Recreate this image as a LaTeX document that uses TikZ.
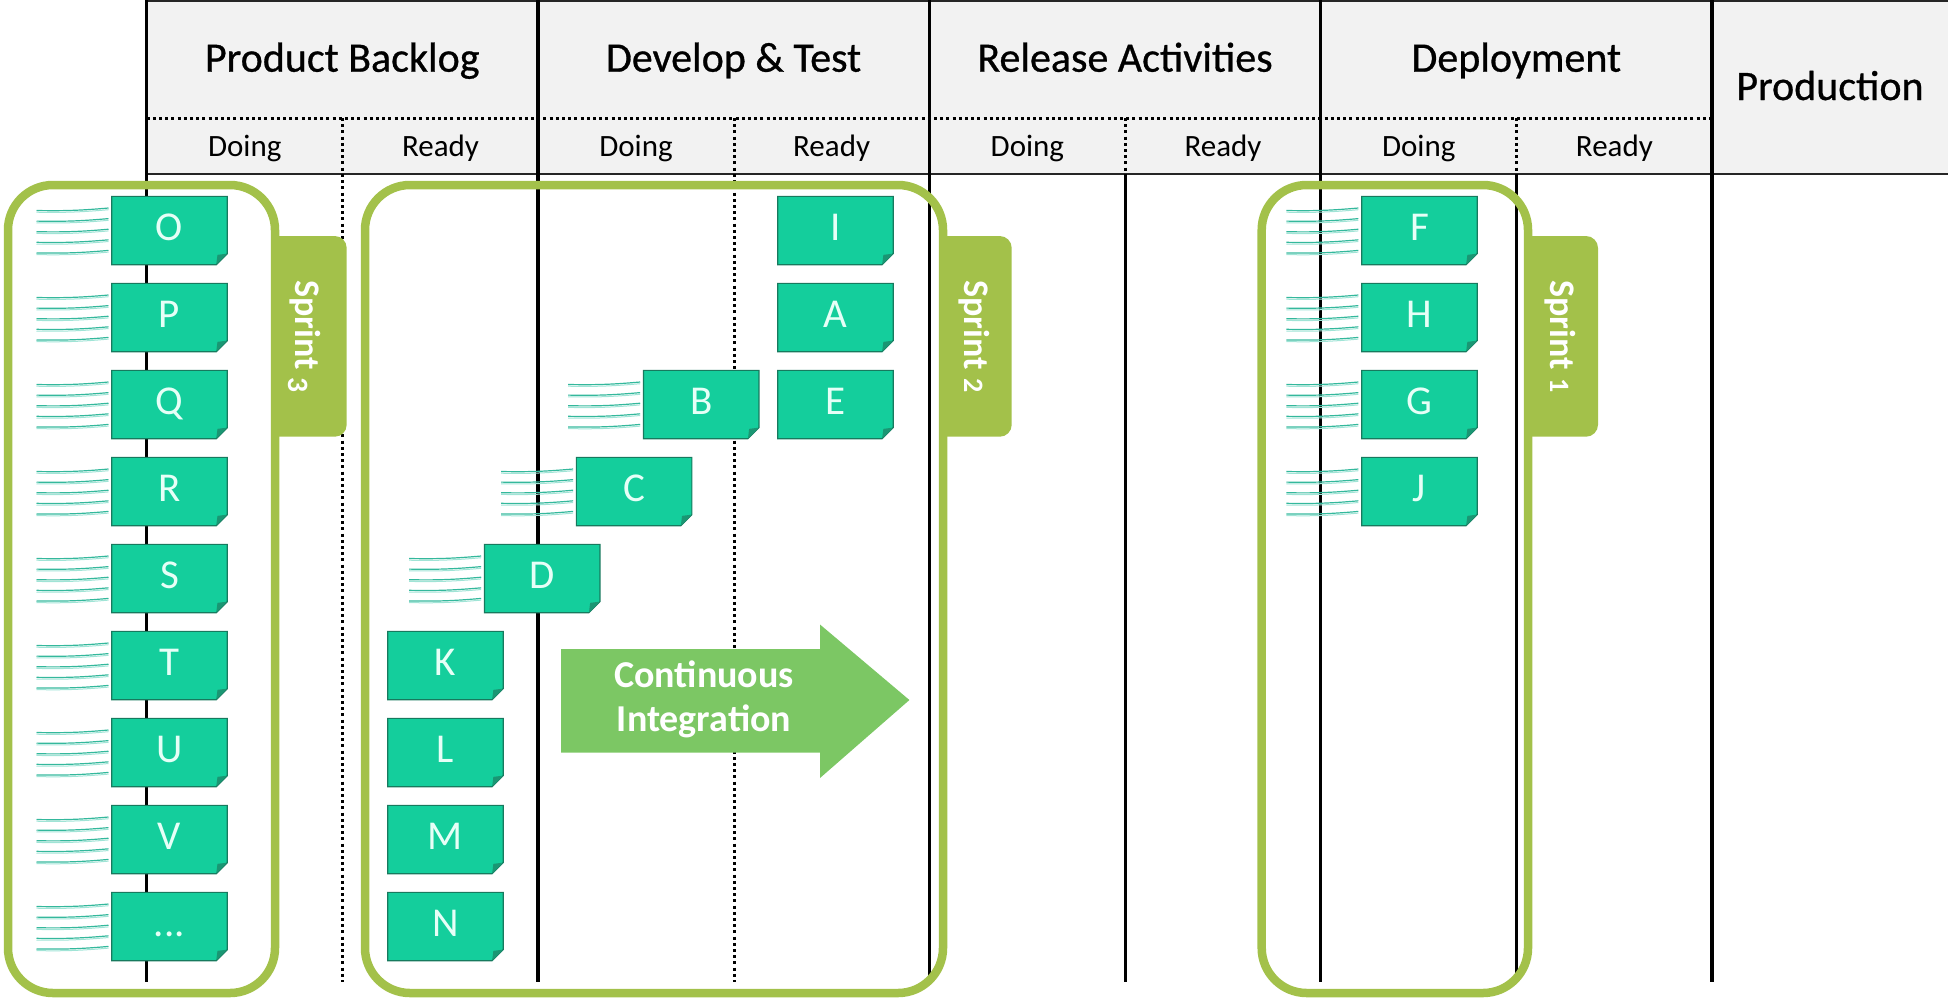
\documentclass[tikz,border=0pt]{standalone}
\usepackage{fontspec}
\setmainfont{Carlito}
\usetikzlibrary{calc}
\definecolor{headgray}{RGB}{242,242,242}
\definecolor{cardgreen}{RGB}{20,206,156}
\definecolor{carddark}{RGB}{23,122,94}
\definecolor{foldgreen}{RGB}{26,150,115}
\definecolor{cardletter}{RGB}{230,255,247}
\definecolor{sprintgreen}{RGB}{163,193,74}
\definecolor{arrowgreen}{RGB}{124,199,100}
\definecolor{speedteal}{RGB}{52,184,156}
\definecolor{speedpale}{RGB}{160,228,214}
\tikzset{
  colline/.style={line width=1.6pt, black},
  thinline/.style={line width=1pt, black!85},
  dotline/.style={line width=1.5pt, dash pattern=on 1.5pt off 1.6pt, black},
  title/.style={anchor=base, font=\fontsize{21}{25}\selectfont\addfontfeatures{FakeBold=0.7}, inner sep=0pt},
  subtitle/.style={anchor=base, font=\fontsize{15.5}{18}\selectfont, inner sep=0pt},
  cardbody/.style={fill=cardgreen, draw=carddark, line width=0.6pt},
  cardfold/.style={fill=foldgreen},
  cardtext/.style={anchor=base, text=cardletter, font=\fontsize{20.5}{24}\selectfont, inner sep=0pt},
  sprintbox/.style={draw=sprintgreen, line width=4.25pt, rounded corners=22.5pt},
  sprinttab/.style={fill=sprintgreen, rounded corners=6pt},
  sprintlabel/.style={anchor=base, rotate=-90, text=white, font=\fontsize{18}{21}\selectfont\bfseries, inner sep=0pt},
  speed/.style={draw=speedteal, line width=0.6pt},
  speedlight/.style={draw=speedpale, line width=0.5pt},
  ciarrow/.style={fill=arrowgreen},
  citext/.style={text=white, font=\fontsize{19}{22}\selectfont\bfseries, align=center, inner sep=0pt},
}
\newcommand\kcard[4]{%
  \filldraw[cardbody] ($(#2,#3)+(-57.75,-34.15)$) -- ++(115.5,0) -- ++(0,57.3) -- ++(-11,11) -- ++(-104.5,0) -- cycle;
  \fill[cardfold] ($(#2,#3)+(57.75,23.15)$) -- ++(-11,11) -- ++(1.2,-9.8) -- cycle;
  \node[cardtext] (#1) at ($(#2,#3)+(0,9.5)$) {#4};
}
\newcommand\speedlines[2]{%
  \foreach \k in {0,1,2,3,4}{%
    \draw[speedlight] ($(#1,#2)+(-133,-18.3+10.6*\k)$) to[bend right=3] ($(#1,#2)+(-61,-20.8+10.6*\k)$);
    \draw[speed] ($(#1,#2)+(-133,-20+10.6*\k)$) to[bend right=3] ($(#1,#2)+(-61,-22.5+10.6*\k)$);
  }%
}
% old-style looking numerals
\newcommand\osdown[1]{\raisebox{-0.19em}{\scalebox{0.82}{#1}}}
\newcommand\ossmall[1]{\scalebox{0.78}{#1}}
\begin{document}
\begin{tikzpicture}[x=0.5pt,y=-0.5pt]
\useasboundingbox (0,0) rectangle (1948,1003);
% header background
\fill[headgray] (146.6,0) rectangle (1948,174);
\draw[thinline] (146.6,1) -- (1948,1);
\draw[dotline] (146.6,118) -- (1712,118);
\draw[thinline] (146.6,174) -- (1948,174);
% column lines
\foreach \x in {146.6,538,929.2,1320.6,1712} \draw[colline] (\x,0) -- (\x,982);
\foreach \x in {342.9,734.2,1125.5,1516.8} \draw[dotline] (\x,118) -- (\x,174);
\foreach \x in {342.9,734.2} \draw[dotline] (\x,174) -- (\x,982);
\foreach \x in {1125.5,1516.8} \draw[colline] (\x,174) -- (\x,982);
% header texts
\node[title] (tPB) at (342.3,71.7) {Product Backlog};
\node[title] (tDT) at (733.6,71.7) {Develop \& Test};
\node[title] (tRA) at (1125,71.7) {Release Activities};
\node[title] (tDep) at (1516.3,71.7) {Deployment};
\node[title] (tProd) at (1830,100) {Production};
\node[subtitle] (d1) at (244.8,156) {Doing};
\node[subtitle] (r1) at (440.5,156) {Ready};
\node[subtitle] (d2) at (636,156) {Doing};
\node[subtitle] (r2) at (831.6,156) {Ready};
\node[subtitle] (d3) at (1027.4,156) {Doing};
\node[subtitle] (r3) at (1223,156) {Ready};
\node[subtitle] (d4) at (1418.7,156) {Doing};
\node[subtitle] (r4) at (1614.4,156) {Ready};
% sprint tabs
\begin{scope}
  \clip (275,0) rectangle (400,1003);
  \fill[sprinttab] (250,236) rectangle (346.7,436.7);
\end{scope}
\begin{scope}
  \clip (943,0) rectangle (1100,1003);
  \fill[sprinttab] (920,236) rectangle (1011.7,436.7);
\end{scope}
\begin{scope}
  \clip (1528,0) rectangle (1700,1003);
  \fill[sprinttab] (1500,236) rectangle (1598,436.7);
\end{scope}
% sprint boxes
\draw[sprintbox] (8,185) rectangle (275,993);
\draw[sprintbox] (365,185) rectangle (943,993);
\draw[sprintbox] (1261.7,185) rectangle (1528,993);
\node[sprintlabel] (s3) at (295,336.5) {Sprint \osdown{3}};
\node[sprintlabel] (s2) at (964,336.5) {Sprint \ossmall{2}};
\node[sprintlabel] (s1) at (1550,336.5) {Sprint \ossmall{1}};
% backlog cards
\foreach \n [count=\i from 0, evaluate=\i as \cy using 230.5+87*\i] in {O,P,Q,R,S,T,U,V}{%
  \speedlines{169.5}{\cy}
  \kcard{\n}{169.5}{\cy}{\n}
}
\speedlines{169.5}{926.5}
\kcard{more}{169.5}{926.5}{...}
% develop & test
\kcard{I}{835.4}{230.5}{I}
\kcard{A}{835.4}{317.5}{A}
\kcard{E}{835.4}{404.5}{E}
\speedlines{701.2}{404.5}
\kcard{B}{701.2}{404.5}{B}
\speedlines{634.1}{491.5}
\kcard{C}{634.1}{491.5}{C}
\speedlines{542.2}{578.5}
\kcard{D}{542.2}{578.5}{D}
\kcard{K}{445.4}{665.5}{K}
\kcard{L}{445.4}{752.5}{L}
\kcard{M}{445.4}{839.5}{M}
\kcard{N}{445.4}{926.5}{N}
% deployment
\foreach \n [count=\i from 0, evaluate=\i as \cy using 230.5+87*\i] in {F,H,G,J}{%
  \speedlines{1419.4}{\cy}
  \kcard{\n}{1419.4}{\cy}{\n}
}
% continuous integration arrow
\fill[ciarrow] (561,649) -- (820,649) -- (820,624.5) -- (909.4,700) -- (820,778) -- (820,752.5) -- (561,752.5) -- cycle;
\node[citext] (ci) at (704,699) {Continuous\\Integration};
\end{tikzpicture}
\end{document}
